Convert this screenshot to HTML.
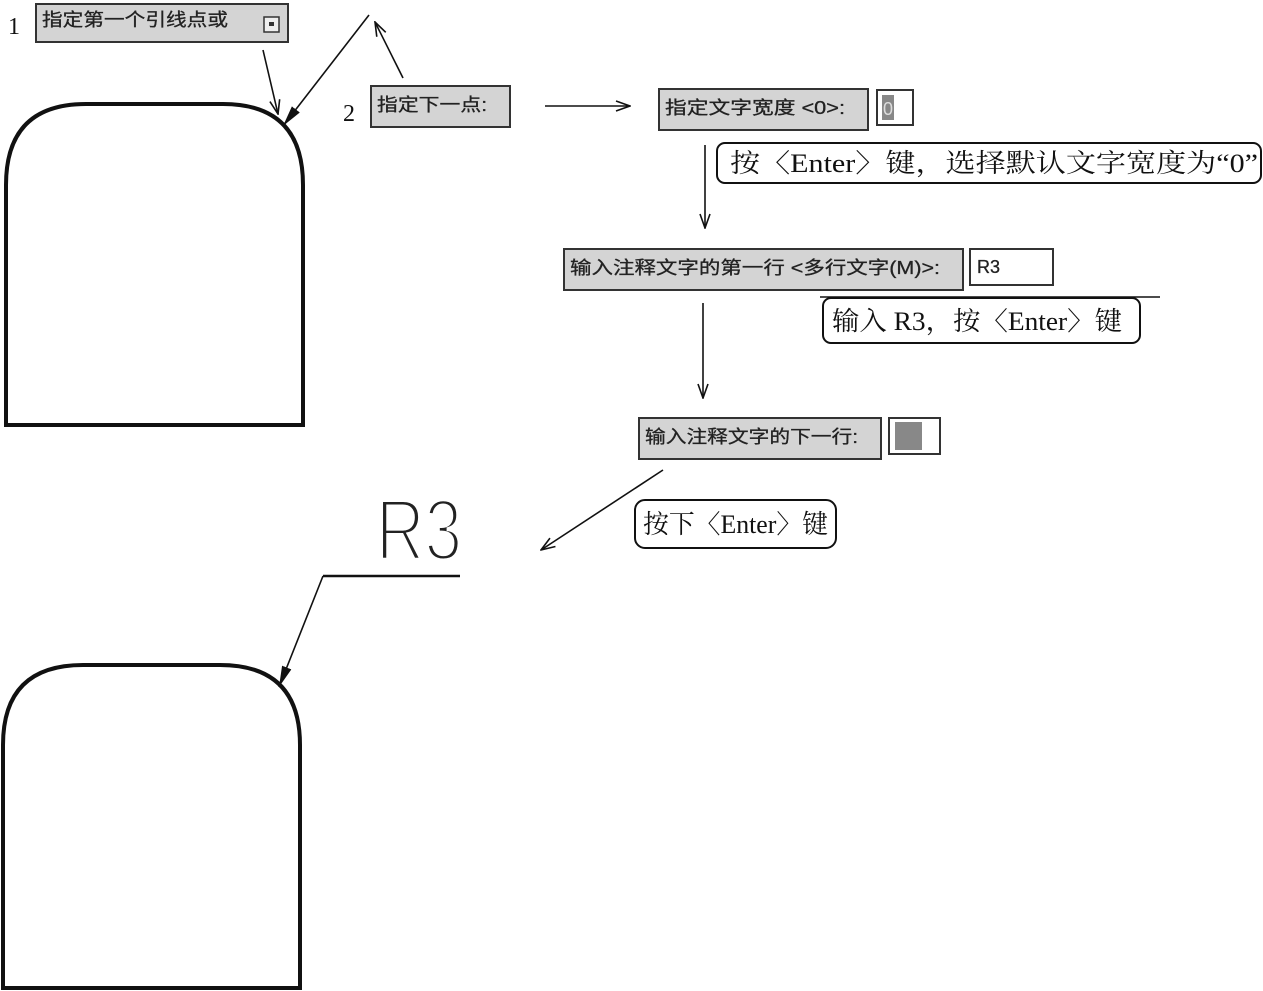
<!DOCTYPE html>
<html><head><meta charset="utf-8"><style>
html,body{margin:0;padding:0;background:#fff;}
svg{display:block;}
.ui{font-family:"Liberation Sans","Noto Sans CJK SC",sans-serif;font-size:18px;fill:#222;stroke:#222;stroke-width:0.3;}
.sr{font-family:"Liberation Serif","Noto Serif CJK SC",serif;fill:#111;}
</style></head><body>
<svg width="1263" height="991" viewBox="0 0 1263 991" xmlns="http://www.w3.org/2000/svg">
<defs>
<marker id="open" markerWidth="16" markerHeight="12" refX="15" refY="6" orient="auto" markerUnits="userSpaceOnUse">
<path d="M1,1 L15,6 L1,11" fill="none" stroke="#111" stroke-width="1.6"/>
</marker>
<marker id="fill" markerWidth="22" markerHeight="12" refX="21" refY="6" orient="auto" markerUnits="userSpaceOnUse">
<path d="M0,1 L21,6 L0,11 Z" fill="#111"/>
</marker>
</defs>

<text x="8" y="34" class="sr" font-size="24">1</text>
<rect x="36" y="4" width="252" height="38" fill="#d4d4d4" stroke="#333" stroke-width="2"/>
<text x="42" y="26" class="ui" textLength="186" lengthAdjust="spacingAndGlyphs">指定第一个引线点或</text>
<rect x="264" y="17" width="15" height="15" fill="#eee" stroke="#333" stroke-width="1.5"/>
<rect x="269" y="22" width="5" height="4" fill="#333"/>

<line x1="263" y1="50" x2="278" y2="114" stroke="#111" stroke-width="1.6" marker-end="url(#open)"/>
<line x1="369" y1="15" x2="283" y2="126" stroke="#111" stroke-width="1.6" marker-end="url(#fill)"/>
<line x1="403" y1="78" x2="375" y2="22" stroke="#111" stroke-width="1.6" marker-end="url(#open)"/>

<text x="343" y="121" class="sr" font-size="24">2</text>
<rect x="371" y="86" width="139" height="41" fill="#d4d4d4" stroke="#333" stroke-width="2"/>
<text x="377" y="111" class="ui" textLength="110" lengthAdjust="spacingAndGlyphs">指定下一点:</text>

<path d="M6,425 L6,185 Q6,104 86,104 L223,104 Q303,104 303,185 L303,425 Z" fill="none" stroke="#111" stroke-width="4"/>

<line x1="545" y1="106" x2="630" y2="106" stroke="#111" stroke-width="1.6" marker-end="url(#open)"/>

<rect x="659" y="89" width="209" height="41" fill="#d4d4d4" stroke="#333" stroke-width="2"/>
<text x="665" y="114" class="ui" textLength="180" lengthAdjust="spacingAndGlyphs">指定文字宽度 &lt;0&gt;:</text>
<rect x="877" y="90" width="36" height="35" fill="#fff" stroke="#333" stroke-width="2"/>
<rect x="882" y="95" width="12" height="25" fill="#888"/>
<text x="883" y="115" font-family="Liberation Sans" font-size="18" fill="#ddd">0</text>

<rect x="717" y="143" width="544" height="40" rx="8" fill="#fff" stroke="#111" stroke-width="2"/>
<text x="730" y="172" class="sr" font-size="26" textLength="528" lengthAdjust="spacingAndGlyphs">按〈Enter〉键，选择默认文字宽度为“0”</text>

<line x1="705" y1="145" x2="705" y2="228" stroke="#111" stroke-width="1.6" marker-end="url(#open)"/>

<rect x="564" y="249" width="399" height="41" fill="#d4d4d4" stroke="#333" stroke-width="2"/>
<text x="570" y="274" class="ui" textLength="370" lengthAdjust="spacingAndGlyphs">输入注释文字的第一行 &lt;多行文字(M)&gt;:</text>
<rect x="970" y="249" width="83" height="36" fill="#fff" stroke="#333" stroke-width="2"/>
<text x="977" y="273" class="ui">R3</text>

<line x1="820" y1="297" x2="1160" y2="297" stroke="#111" stroke-width="1.5"/>
<rect x="823" y="298" width="317" height="45" rx="8" fill="#fff" stroke="#111" stroke-width="2"/>
<text x="832" y="330" class="sr" font-size="26" textLength="290" lengthAdjust="spacingAndGlyphs">输入 R3，按〈Enter〉键</text>

<line x1="703" y1="303" x2="703" y2="398" stroke="#111" stroke-width="1.6" marker-end="url(#open)"/>

<rect x="639" y="418" width="242" height="41" fill="#d4d4d4" stroke="#333" stroke-width="2"/>
<text x="645" y="443" class="ui" textLength="213" lengthAdjust="spacingAndGlyphs">输入注释文字的下一行:</text>
<rect x="889" y="418" width="51" height="36" fill="#fff" stroke="#333" stroke-width="2"/>
<rect x="895" y="422" width="27" height="28" fill="#888"/>

<line x1="663" y1="470" x2="541" y2="550" stroke="#111" stroke-width="1.6" marker-end="url(#open)"/>

<rect x="635" y="500" width="201" height="48" rx="10" fill="#fff" stroke="#111" stroke-width="2"/>
<text x="643" y="533" class="sr" font-size="26" textLength="185" lengthAdjust="spacingAndGlyphs">按下〈Enter〉键</text>

<text x="376" y="558" font-family="Liberation Sans, sans-serif" font-size="78" fill="#222" stroke="#fff" stroke-width="3.5" textLength="86" lengthAdjust="spacingAndGlyphs" transform="translate(0,-60) scale(1,1.11)">R3</text>
<line x1="323" y1="576" x2="460" y2="576" stroke="#111" stroke-width="2.5"/>
<line x1="323" y1="576" x2="279" y2="687" stroke="#111" stroke-width="1.6" marker-end="url(#fill)"/>

<path d="M3,988 L3,745 Q3,665 83,665 L220,665 Q300,665 300,745 L300,988 Z" fill="none" stroke="#111" stroke-width="4"/>
</svg>
</body></html>
